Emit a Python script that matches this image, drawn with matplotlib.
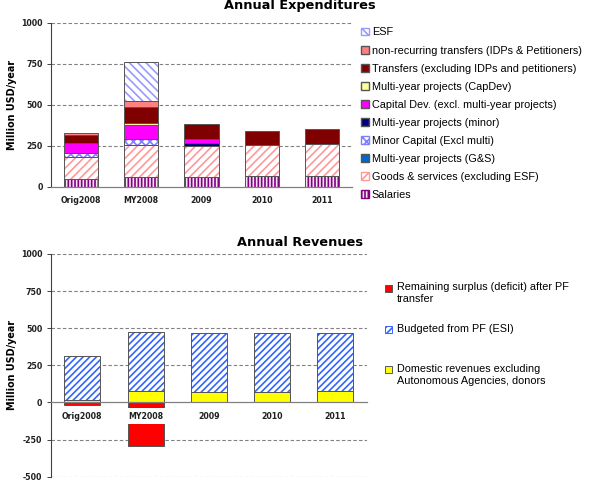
import numpy as np
import matplotlib
matplotlib.use('Agg')
import matplotlib.pyplot as plt
from matplotlib.patches import Patch, Rectangle

plt.rcParams['hatch.linewidth'] = 1.2
plt.rcParams['lines.scale_dashes'] = False
plt.rcParams['axes.unicode_minus'] = False

years = ['Orig2008', 'MY2008', '2009', '2010', '2011']

# expenditures, million USD/year (stacked bottom -> top)
salaries       = [45, 57, 60, 65, 63]
goods_services = [138, 195, 187, 188, 195]
my_gs          = [0, 3, 4, 0, 0]
minor_capital  = [25, 37, 0, 0, 0]
my_minor       = [0, 0, 15, 0, 0]
capital_dev    = [60, 83, 22, 0, 0]
my_capdev      = [0, 12, 0, 0, 0]
transfers      = [47, 98, 92, 89, 92]
nonrecurring   = [15, 40, 0, 0, 0]
esf            = [0, 238, 0, 0, 0]

# revenues
domestic    = [20, 78, 72, 72, 76]
budgeted_pf = [294, 398, 393, 395, 394]
surplus     = [-18, -292, 0, 0, 0]

exp_series = [
    ('Salaries', salaries, '#F4E4F4', '|||||', '#800080'),
    ('Goods & services (excluding ESF)', goods_services, 'white', '////', '#FF9999'),
    ('Multi-year projects (G&S)', my_gs, '#0066CC', None, None),
    ('Minor Capital (Excl multi)', minor_capital, 'white', 'xxxx', '#7F7FFF'),
    ('Multi-year projects (minor)', my_minor, '#000080', None, None),
    ('Capital Dev. (excl. multi-year projects)', capital_dev, '#FF00FF', None, None),
    ('Multi-year projects (CapDev)', my_capdev, '#FFFF99', None, None),
    ('Transfers (excluding IDPs and petitioners)', transfers, '#800000', None, None),
    ('non-recurring transfers (IDPs & Petitioners)', nonrecurring, '#FF8080', None, None),
    ('ESF', esf, 'white', '\\\\\\\\', '#9999FF'),
]

rev_series = [
    ('Domestic revenues excluding\nAutonomous Agencies, donors', domestic, '#FFFF00', None, None),
    ('Budgeted from PF (ESI)', budgeted_pf, 'white', '/////', '#3366FF'),
]

W = 0.57
EDGE = '#555555'
LEG_FS = 7.8
x = np.arange(len(years))


def draw_seg(ax, xs, h, b, face, hatch, hcol):
    if hatch:
        ax.bar(xs, h, W, bottom=b, color=face, edgecolor=hcol, hatch=hatch,
               linewidth=0, zorder=1)
        ax.bar(xs, h, W, bottom=b, fill=False, edgecolor=EDGE, linewidth=0.7, zorder=1.1)
    else:
        ax.bar(xs, h, W, bottom=b, color=face, edgecolor=EDGE, linewidth=0.7, zorder=1)


def style_axis(ax, ticks, lo, hi, label_x):
    ax.set_ylim(lo, hi)
    ax.set_xlim(-0.5, len(years) - 0.5)
    ax.set_yticks(ticks)
    for t in ticks:
        if t != 0:
            ax.axhline(t, color='#808080', lw=0.8, ls=(0, (2.5, 1.6)), zorder=0.5)
    for s in ['top', 'right']:
        ax.spines[s].set_visible(False)
    ax.spines['left'].set_color('#404040')
    ax.spines['left'].set_linewidth(0.8)
    ax.spines['bottom'].set_position(('data', 0))
    ax.spines['bottom'].set_color('#808080')
    ax.spines['bottom'].set_linewidth(0.9)
    ax.set_xticks(x)
    ax.set_xticklabels(years, fontsize=5.7, fontweight='bold', color='#202020')
    ax.tick_params(axis='x', length=0, pad=6.5)
    ax.tick_params(axis='y', length=3, width=0.7, color='#404040', pad=3,
                   labelsize=5.7, labelcolor='#202020')
    for lbl in ax.get_yticklabels():
        lbl.set_fontweight('bold')
    ax.set_ylabel('Million USD/year', fontsize=6.9, fontweight='bold')
    ax.yaxis.set_label_coords(label_x, 0.5)


fig = plt.figure(figsize=(6, 4.86), dpi=100)

# ---- Annual Expenditures
ax1 = fig.add_axes([0.085, 0.6159, 0.5017, 0.3374])
bottom = np.zeros(len(years))
for name, vals, face, hatch, hcol in exp_series:
    v = np.array(vals, dtype=float)
    m = v != 0
    draw_seg(ax1, x[m], v[m], bottom[m], face, hatch, hcol)
    bottom += v
style_axis(ax1, [0, 250, 500, 750, 1000], 0, 1000, -0.113)

handles = []
for name, vals, face, hatch, hcol in exp_series[::-1]:
    if hatch:
        handles.append(Patch(facecolor=face, edgecolor=hcol, hatch=hatch, label=name))
    else:
        handles.append(Patch(facecolor=face, edgecolor=EDGE, label=name))
fig.legend(handles=handles, loc='upper left', bbox_to_anchor=(361 / 600, 1 - 27.5 / 486),
           frameon=False, prop={'family': 'Liberation Sans', 'size': LEG_FS},
           handlelength=0.7, handleheight=0.7, handletextpad=0.3,
           labelspacing=0.74, borderpad=0, borderaxespad=0)

fig.text(0.5, 1 - 9.5 / 486, 'Annual Expenditures', ha='center', va='baseline',
         fontsize=9.3, fontweight='bold')

# ---- Annual Revenues
ax2 = fig.add_axes([0.0845, 0.0191, 0.527, 0.4583])
bottom = np.zeros(len(years))
for name, vals, face, hatch, hcol in rev_series:
    v = np.array(vals, dtype=float)
    draw_seg(ax2, x, v, bottom, face, hatch, hcol)
    bottom += v
s = np.array(surplus, dtype=float)
m = s != 0
draw_seg(ax2, x[m], s[m], np.zeros(m.sum()), '#FF0000', None, None)
style_axis(ax2, [-500, -250, 0, 250, 500, 750, 1000], -500, 1000, -0.108)
for lbl in ax2.get_xticklabels():
    lbl.set_bbox(dict(facecolor='white', edgecolor='none', pad=2.2))

fig.text(0.5, 1 - 246 / 486, 'Annual Revenues', ha='center', va='baseline',
         fontsize=9.3, fontweight='bold')

# manual legend for revenues (handle aligned with first text line)
rev_legend = [
    ('#FF0000', None, None, 'Remaining surplus (deficit) after PF\ntransfer', 288.5),
    ('white', '/////', '#3366FF', 'Budgeted from PF (ESI)', 329.5),
    ('#FFFF00', None, None, 'Domestic revenues excluding\nAutonomous Agencies, donors', 369.5),
]
for face, hatch, hcol, label, yc in rev_legend:
    ec = hcol if hatch else EDGE
    fig.patches.append(Rectangle((385 / 600, 1 - (yc + 3.5) / 486), 7 / 600, 7 / 486,
                                 transform=fig.transFigure, facecolor=face,
                                 edgecolor=ec, hatch=hatch,
                                 linewidth=0.7))
    fig.text(397 / 600, 1 - (yc - 6) / 486, label, ha='left', va='top',
             family='Liberation Sans', fontsize=LEG_FS, linespacing=1.25)

fig.savefig('out.png', dpi=100)
